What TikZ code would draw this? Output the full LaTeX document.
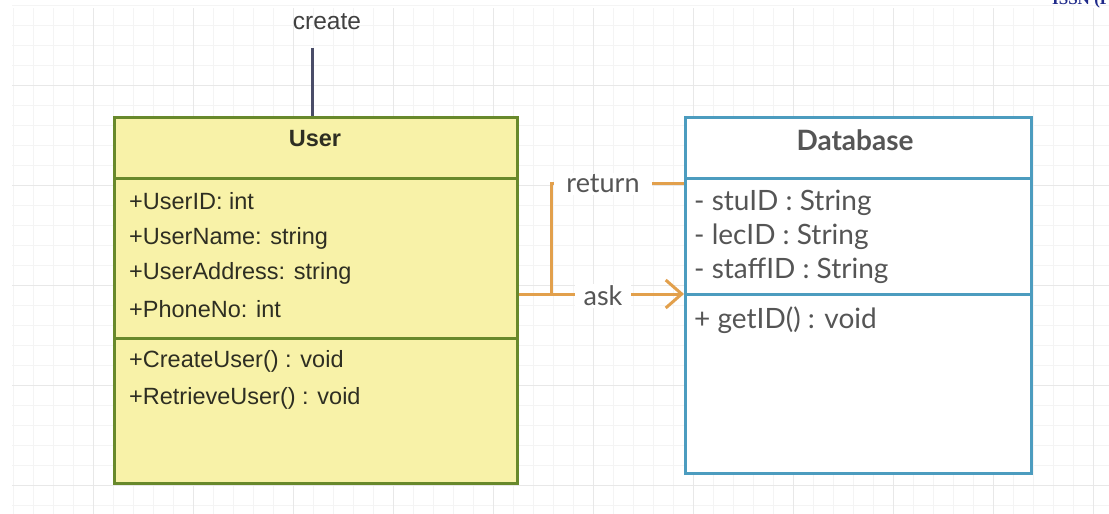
\documentclass[tikz,border=0pt]{standalone}
\usepackage{fontspec}
\setmainfont{Liberation Sans}
\newfontfamily\lato{Lato}
\newfontfamily\serifb{Liberation Serif}
\usetikzlibrary{arrows.meta}
\definecolor{userfill}{HTML}{F8F2A8}
\definecolor{userdraw}{HTML}{68892B}
\definecolor{dbdraw}{HTML}{4C9CBF}
\definecolor{conn}{HTML}{E2A04C}
\definecolor{utxt}{HTML}{2E2E22}
\definecolor{dbtxt}{HTML}{555555}
\definecolor{createline}{HTML}{4A4D68}
\definecolor{minorg}{HTML}{F4F4F4}
\definecolor{majorg}{HTML}{E8E8E8}
\definecolor{issn}{HTML}{1F2A8A}
\tikzset{
  userbox/.style={draw=userdraw, fill=userfill, line width=3pt, inner sep=0pt, anchor=north west},
  dbbox/.style={draw=dbdraw, fill=white, line width=3pt, inner sep=0pt, anchor=north west},
  udiv/.style={draw=userdraw, line width=3pt},
  ddiv/.style={draw=dbdraw, line width=3pt},
  utext/.style={font=\fontsize{23.5}{26}\selectfont, text=utxt, inner sep=0pt, anchor=west},
  dtext/.style={font=\lato\fontsize{28}{30}\selectfont, text=dbtxt, inner sep=0pt, anchor=west},
  conline/.style={draw=conn, line width=3pt},
  conlabel/.style={font=\lato\fontsize{27}{29}\selectfont, text=dbtxt, fill=white, inner ysep=2pt},
  minorline/.style={draw=minorg, line width=0.8pt},
  majorline/.style={draw=majorg, line width=1pt}
}
\begin{document}
\begin{tikzpicture}[x=1pt,y=-1pt]
\useasboundingbox (0,0) rectangle (1109,514);
% grid background
\foreach \x in {13,33,...,1109} \draw[minorline] (\x,8) -- (\x,514);
\foreach \y in {5,25,...,514} \draw[minorline] (12,\y) -- (1109,\y);
\foreach \x in {93,193,...,1093} \draw[majorline] (\x,8) -- (\x,514);
\foreach \y in {85,185,285,385,485} \draw[majorline] (12,\y) -- (1109,\y);
% journal header fragment
\node[font=\serifb\bfseries\fontsize{17}{18}\selectfont, text=issn, inner sep=0pt, anchor=base west] (issn) at (1052,5) {ISSN (Print)};
% User class
\node[userbox, minimum width=403pt, minimum height=366pt] (user) at (113,116) {};
\coordinate (u1) at (113,178);
\coordinate (u2) at (113,338);
\draw[udiv] (u1) -- (u1 -| user.east);
\draw[udiv] (u2) -- (u2 -| user.east);
\node[utext, anchor=center, font=\bfseries\fontsize{23.5}{26}\selectfont] (uname) at (315,139) {User};
\node[utext] (ua1) at (129,201) {+UserID: int};
\node[utext] (ua2) at (129,238) {+UserName: string};
\node[utext] (ua3) at (129,273) {+UserAddress: string};
\node[utext] (ua4) at (129,309) {+PhoneNo: int};
\node[utext] (um1) at (129,361) {+CreateUser() : void};
\node[utext] (um2) at (129,398) {+RetrieveUser() : void};
% Database class
\node[dbbox, minimum width=346pt, minimum height=356pt] (db) at (684,116) {};
\coordinate (d1) at (684,178);
\coordinate (d2) at (684,294);
\draw[ddiv] (d1) -- (d1 -| db.east);
\draw[ddiv] (d2) -- (d2 -| db.east);
\node[dtext, anchor=center, font=\lato\bfseries\fontsize{28}{30}\selectfont] (dbname) at (855,140) {Database};
\node[dtext] (da1) at (694,203) {- stuID : String};
\node[dtext] (da2) at (694,237) {- lecID : String};
\node[dtext] (da3) at (694,271) {- staffID : String};
\node[dtext] (dm1) at (694,320) {+ getID() : void};
% create
\coordinate (ctop) at (312,48);
\draw[line width=3pt, draw=createline] (ctop) -- (ctop |- user.north);
\node[utext, anchor=center, text=black!75, font=\fontsize{24.5}{26}\selectfont] (createlbl) at (327,22) {create};
% connectors
\coordinate (ret) at (684,183);
\coordinate (join) at (551,294);
\draw[conline] (ret) -| (join);
\node[conlabel, inner xsep=12pt] (retlbl) at (603,184) {return};
\draw[conline, -{Straight Barb[length=16pt, width=28pt]}] (user.east |- d2) -- (d2);
\node[conlabel, inner xsep=9pt] (asklbl) at (603,296) {ask};
\end{tikzpicture}
\end{document}
